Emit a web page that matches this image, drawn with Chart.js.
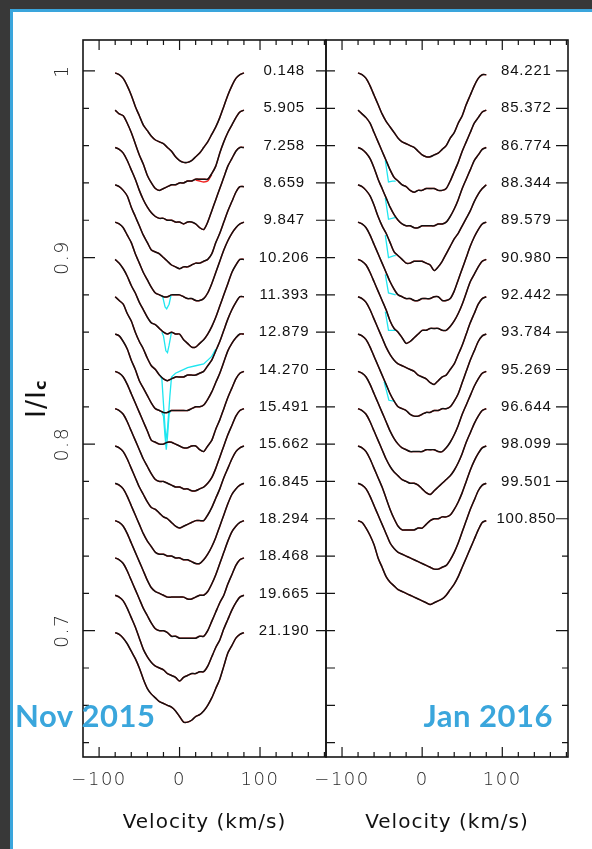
<!DOCTYPE html>
<html>
<head>
<meta charset="utf-8">
<script src="https://cdn.jsdelivr.net/npm/chart.js@4.4.0/dist/chart.umd.min.js"></script>
<style>
html,body{margin:0;padding:0}
body{width:592px;height:849px;overflow:hidden;position:relative;background:#383838}
#sheet{position:absolute;left:10px;top:9px;width:620px;height:880px;background:#fff;border:3px solid #3aa5dc;box-sizing:border-box}
canvas{position:absolute;left:0;top:0}
</style>
</head>
<body>
<div id="sheet"></div>
<canvas id="nov" width="592" height="849"></canvas>
<canvas id="jan" width="592" height="849"></canvas>
<script>
// ---------- data ----------
const velocity = [-80,-75,-70,-65,-60,-55,-50,-45,-40,-35,-30,-25,-20,-15,-10,-5,0,5,10,15,20,25,30,35,40,45,50,55,60,65,70,75,80];

const novEpochs = ['0.148','5.905','7.258','8.659','9.847','10.206','11.393','12.879','14.270','15.491','15.662','16.845','18.294','18.468','19.665','21.190'];
const novLevels = [1.00,0.98,0.96,0.94,0.92,0.90,0.88,0.86,0.84,0.82,0.80,0.78,0.76,0.74,0.72,0.70];
const janEpochs = ['84.221','85.372','86.774','88.344','89.579','90.980','92.442','93.784','95.269','96.644','98.099','99.501','100.850'];
const janLevels = [1.00,0.98,0.96,0.94,0.92,0.90,0.88,0.86,0.84,0.82,0.80,0.78,0.76];

const yTickValues = [1.0, 0.9, 0.8, 0.7];
const yTickLabels = ['1', '0.9', '0.8', '0.7'];
const xTickValues = [-100, 0, 100];
const xTickLabels = ['\u2212100', '0', '100'];

// Nov 2015 observed profiles (I/Ic, before vertical shift)
const nov_0148  = [.999,.998,.996,.992,.987,.981,.976,.971,.968,.965,.963,.962,.961,.959,.957,.954,.952,.951,.951,.952,.954,.956,.959,.962,.966,.970,.975,.981,.987,.992,.996,.998,.999];
const nov_5905  = [.999,.997,.996,.992,.987,.981,.975,.970,.964,.960,.957,.956,.957,.958,.959,.959,.960,.960,.961,.961,.962,.962,.962,.962,.965,.969,.976,.982,.987,.991,.995,.998,.999];
const nov_7258  = [.999,.998,.996,.992,.987,.982,.976,.971,.967,.964,.962,.961,.961,.960,.960,.959,.959,.958,.959,.959,.958,.956,.955,.959,.965,.971,.977,.983,.989,.993,.997,.999,.999];
const nov_8659  = [.999,.998,.996,.993,.987,.982,.977,.972,.968,.964,.963,.962,.960,.958,.956,.955,.954,.955,.955,.956,.957,.957,.958,.959,.962,.968,.973,.979,.985,.990,.995,.998,.998];
const nov_9847  = [.999,.998,.996,.992,.988,.982,.977,.972,.968,.964,.961,.960,.959,.959,.960,.960,.960,.959,.958,.958,.957,.957,.958,.961,.966,.972,.978,.984,.989,.993,.996,.998,.999];
const nov_10206 = [.999,.997,.994,.990,.985,.981,.976,.972,.968,.965,.964,.962,.960,.959,.960,.959,.959,.956,.954,.952,.952,.954,.956,.959,.963,.968,.974,.980,.986,.992,.996,.999,.999];
const nov_11393 = [.999,.997,.995,.990,.986,.980,.975,.971,.966,.962,.960,.957,.955,.954,.955,.956,.956,.956,.957,.957,.957,.958,.959,.962,.965,.970,.975,.981,.987,.992,.996,.999,.999];
const nov_12879 = [.999,.998,.995,.991,.985,.980,.974,.970,.966,.962,.959,.958,.957,.957,.958,.958,.958,.958,.958,.959,.960,.960,.961,.964,.968,.973,.978,.984,.990,.994,.997,.999,.999];
const nov_14270 = [.999,.998,.996,.992,.987,.982,.977,.972,.967,.962,.961,.960,.960,.961,.961,.960,.959,.958,.958,.959,.959,.957,.956,.959,.962,.968,.973,.979,.985,.990,.995,.998,.999];
const nov_15491 = [.999,.998,.996,.992,.987,.982,.977,.972,.968,.964,.961,.960,.960,.959,.958,.957,.957,.956,.956,.955,.955,.956,.957,.959,.962,.967,.973,.979,.985,.990,.995,.998,.999];
const nov_15662 = [.999,.998,.996,.992,.987,.982,.977,.973,.969,.966,.965,.963,.961,.960,.958,.956,.955,.956,.957,.958,.959,.959,.959,.962,.966,.971,.976,.982,.987,.992,.996,.998,.999];
const nov_16845 = [.999,.998,.996,.992,.987,.982,.977,.972,.968,.965,.962,.961,.961,.960,.960,.959,.959,.958,.958,.957,.956,.956,.958,.961,.965,.970,.976,.982,.988,.993,.996,.998,.999];
const nov_18294 = [.999,.998,.996,.992,.987,.982,.977,.972,.967,.963,.961,.960,.959,.958,.958,.958,.958,.958,.957,.957,.958,.959,.959,.961,.965,.970,.976,.982,.988,.993,.996,.998,.999];
const nov_18468 = [.999,.998,.996,.992,.987,.982,.977,.972,.968,.964,.961,.960,.960,.959,.957,.957,.956,.956,.956,.956,.956,.957,.957,.960,.965,.970,.975,.979,.985,.990,.995,.998,.999];
const nov_19665 = [.999,.998,.996,.992,.987,.982,.976,.970,.966,.963,.961,.960,.959,.957,.956,.955,.953,.955,.956,.957,.957,.958,.958,.961,.966,.971,.975,.981,.986,.991,.995,.998,.999];
const nov_21190 = [.999,.998,.996,.993,.989,.985,.980,.974,.969,.966,.964,.962,.961,.960,.959,.957,.954,.951,.951,.952,.954,.955,.957,.960,.964,.969,.974,.981,.988,.992,.996,.998,.999];

// Jan 2016 observed profiles
const jan_84221  = [.999,.998,.996,.992,.987,.982,.977,.973,.970,.967,.964,.962,.961,.960,.959,.957,.955,.954,.954,.955,.956,.958,.960,.964,.967,.972,.976,.982,.987,.992,.996,.998,.998];
const jan_85372  = [.999,.997,.995,.992,.987,.982,.977,.972,.967,.963,.961,.959,.958,.956,.955,.956,.956,.957,.957,.957,.956,.956,.957,.961,.966,.971,.977,.982,.987,.992,.995,.998,.999];
const jan_86774  = [.999,.998,.996,.993,.988,.982,.977,.972,.967,.963,.960,.958,.957,.957,.956,.956,.957,.957,.957,.957,.958,.958,.959,.962,.966,.971,.977,.982,.987,.992,.995,.998,.999];
const jan_88344  = [.999,.998,.996,.993,.988,.982,.977,.973,.968,.963,.961,.959,.957,.957,.958,.958,.958,.957,.956,.953,.955,.958,.962,.966,.970,.973,.977,.981,.985,.990,.994,.997,.999];
const jan_89579  = [.999,.998,.996,.992,.987,.982,.977,.972,.967,.963,.960,.959,.958,.958,.957,.957,.958,.958,.958,.959,.959,.957,.957,.958,.962,.968,.974,.980,.986,.991,.995,.998,.999];
const jan_90980  = [.999,.998,.996,.992,.987,.982,.977,.972,.966,.962,.960,.957,.954,.955,.957,.959,.961,.961,.962,.962,.962,.961,.961,.963,.966,.970,.975,.981,.987,.991,.995,.998,.999];
const jan_92442  = [.999,.998,.996,.992,.987,.982,.977,.972,.968,.965,.963,.962,.961,.960,.959,.957,.956,.955,.953,.952,.954,.956,.957,.960,.963,.968,.973,.979,.985,.990,.995,.998,.999];
const jan_93784  = [.999,.998,.996,.992,.987,.982,.977,.972,.967,.963,.960,.959,.958,.956,.955,.955,.956,.957,.957,.958,.958,.959,.959,.960,.963,.967,.973,.979,.985,.990,.995,.998,.999];
const jan_95269  = [.999,.998,.996,.992,.987,.982,.977,.972,.967,.963,.960,.958,.957,.956,.956,.956,.956,.957,.957,.957,.956,.956,.958,.961,.965,.970,.976,.981,.986,.991,.995,.998,.999];
const jan_96644  = [.999,.998,.996,.992,.987,.982,.977,.972,.968,.965,.963,.961,.960,.959,.959,.958,.956,.954,.953,.955,.957,.959,.961,.963,.966,.970,.975,.981,.986,.991,.995,.998,.999];
const jan_98099  = [.999,.998,.996,.992,.987,.982,.977,.971,.965,.960,.956,.954,.954,.954,.954,.955,.955,.957,.959,.960,.960,.961,.961,.962,.965,.969,.974,.980,.986,.991,.995,.998,.999];
const jan_99501  = [.999,.998,.996,.992,.987,.982,.977,.972,.967,.964,.962,.961,.960,.959,.958,.957,.956,.955,.954,.953,.953,.954,.955,.958,.962,.967,.973,.979,.985,.990,.995,.998,.999];
const jan_100850 = [.999,.998,.995,.991,.986,.979,.974,.969,.966,.964,.962,.961,.960,.959,.958,.957,.956,.955,.954,.955,.956,.957,.959,.962,.965,.969,.974,.979,.984,.989,.994,.998,.999];

// cyan curve where it departs from the observed one: [velocity, I/Ic]
const cyan_nov_9847  = [[-23,.9595],[-21,.959],[-18,.9535],[-16,.9525],[-13,.955],[-10.5,.960]];
const cyan_nov_10206 = [[-22,.960],[-20,.958],[-17,.950],[-15,.949],[-13,.953],[-10,.960]];
const cyan_nov_11393 = [[-24,.9565],[-22,.955],[-19,.935],[-17,.922],[-15,.928],[-12,.946],[-10,.956],[-5,.958],[0,.959],[10,.961],[20,.962],[30,.963],[40,.967],[45,.971]];
const cyan_nov_12879 = [[-22,.957],[-20,.955],[-18,.944],[-16.5,.937],[-15,.944],[-13,.956],[-11,.958]];
const cyan_jan_85372 = [[-46,.972],[-42,.9605],[-37,.961],[-33,.961]];
const cyan_jan_86774 = [[-46,.972],[-42,.9605],[-33,.9615]];
const cyan_jan_88344 = [[-46,.972],[-42,.960],[-35,.961],[-33,.961]];
const cyan_jan_89579 = [[-46,.971],[-42,.961],[-33,.960]];
const cyan_jan_90980 = [[-46,.971],[-42,.961],[-35,.961],[-33,.961]];
const cyan_jan_93784 = [[-47.5,.9735],[-41.5,.9635],[-35,.963]];
// red curve where it departs from the observed one
const red_nov_5905 = [[20,.9615],[25,.961],[30,.9605],[35,.961],[40,.9645]];

// ---------- build ----------
const novProfiles = [nov_0148,nov_5905,nov_7258,nov_8659,nov_9847,nov_10206,nov_11393,nov_12879,nov_14270,nov_15491,nov_15662,nov_16845,nov_18294,nov_18468,nov_19665,nov_21190];
const janProfiles = [jan_84221,jan_85372,jan_86774,jan_88344,jan_89579,jan_90980,jan_92442,jan_93784,jan_95269,jan_96644,jan_98099,jan_99501,jan_100850];
const novCyan = [[4,cyan_nov_9847],[5,cyan_nov_10206],[6,cyan_nov_11393],[7,cyan_nov_12879]];
const janCyan = [[1,cyan_jan_85372],[2,cyan_jan_86774],[3,cyan_jan_88344],[4,cyan_jan_89579],[5,cyan_jan_90980],[7,cyan_jan_93784]];
const novRed = [[1,red_nov_5905]];
const janRed = [];

const RED = '#f0201e', CYAN = '#1fe6f0', BLACK = '#111111';

function buildDatasets(profiles, levels, cyan, red) {
  const ds = [];
  profiles.forEach((flux, i) => {
    const pts = velocity.map((v, j) => ({x: v, y: flux[j] - 1 + levels[i]}));
    ds.push({data: pts, borderColor: RED, borderWidth: 1.4, order: 4});
    ds.push({data: pts, borderColor: BLACK, borderWidth: 1.5, order: 0});
  });
  cyan.forEach(([i, arr]) => ds.push({data: arr.map(([v, f]) => ({x: v, y: f - 1 + levels[i]})), borderColor: CYAN, borderWidth: 1.3, order: 2, tension: 0}));
  red.forEach(([i, arr]) => ds.push({data: arr.map(([v, f]) => ({x: v, y: f - 1 + levels[i]})), borderColor: RED, borderWidth: 1.4, order: 3}));
  return ds;
}

const framePlugin = {
  id: 'frame',
  afterDatasetsDraw(chart, args, o) {
    const {ctx, chartArea: a, scales: {x, y}} = chart;
    ctx.save();
    ctx.strokeStyle = '#151515';
    ctx.lineWidth = 1.6;
    ctx.strokeRect(a.left, a.top, a.right - a.left, a.bottom - a.top);
    ctx.lineWidth = 1.2;
    ctx.beginPath();
    for (let v = -100; v <= 180; v += 20) {
      const px = x.getPixelForValue(v);
      const len = v % 100 === 0 ? 10 : 5;
      ctx.moveTo(px, a.top); ctx.lineTo(px, a.top + len);
      ctx.moveTo(px, a.bottom); ctx.lineTo(px, a.bottom - len);
    }
    for (let k = 32; k <= 50; k++) {
      const val = k / 50;
      const py = y.getPixelForValue(val);
      const major = k % 5 === 0;
      if (o.side === 'left') {
        const len = major ? 12 : 6;
        ctx.moveTo(a.left, py); ctx.lineTo(a.left + len, py);
      } else {
        ctx.moveTo(a.left, py); ctx.lineTo(a.left + 9, py);
        const isLabel = o.levels.some(l => Math.abs(l - val) < 1e-6);
        const len = (major || isLabel) ? 12 : 6;
        ctx.moveTo(a.right, py); ctx.lineTo(a.right - len, py);
      }
    }
    if (o.side === 'left') {
      o.levels.forEach(l => { const py = y.getPixelForValue(l); ctx.moveTo(a.right, py); ctx.lineTo(a.right - 10, py); });
    }
    ctx.stroke();

    // epoch labels
    ctx.fillStyle = '#111';
    ctx.font = '15px "Liberation Sans", Arial, sans-serif';
    ctx.letterSpacing = '0.8px';
    ctx.textAlign = 'center';
    ctx.textBaseline = 'middle';
    const lx = x.getPixelForValue(130);
    o.levels.forEach((l, i) => ctx.fillText(o.epochs[i], lx, y.getPixelForValue(l)));

    // x tick labels
    ctx.fillStyle = '#2a2a2a';
    ctx.font = '200 18px "DejaVu Sans", sans-serif';
    ctx.letterSpacing = '1.5px';
    ctx.textBaseline = 'alphabetic';
    xTickValues.forEach((v, i) => ctx.fillText(xTickLabels[i], x.getPixelForValue(v), a.bottom + 28));

    // x title
    ctx.fillStyle = '#111';
    ctx.font = '20px "DejaVu Sans", sans-serif';
    ctx.letterSpacing = '1px';
    ctx.fillText('Velocity (km/s)', (a.left + a.right) / 2, a.bottom + 71);

    if (o.side === 'left') {
      // y tick labels (rotated)
      ctx.fillStyle = '#2a2a2a';
      ctx.font = '200 19px "DejaVu Sans", sans-serif';
      ctx.letterSpacing = '1.5px';
      yTickValues.forEach((v, i) => {
        ctx.save();
        ctx.translate(a.left - 15, y.getPixelForValue(v));
        ctx.rotate(-Math.PI / 2);
        ctx.textAlign = 'center';
        ctx.fillText(yTickLabels[i], 0, 0);
        ctx.restore();
      });
      // y title I/Ic
      ctx.save();
      ctx.translate(a.left - 38, 418);
      ctx.rotate(-Math.PI / 2);
      ctx.textAlign = 'left';
      ctx.fillStyle = '#111';
      ctx.letterSpacing = '1px';
      ctx.font = '27px "DejaVu Sans", sans-serif';
      ctx.fillText('I/I', 0, 0);
      const w = ctx.measureText('I/I').width;
      ctx.letterSpacing = '0px';
      ctx.font = 'bold 16px "DejaVu Sans", sans-serif';
      ctx.fillText('c', w, 1);
      ctx.restore();
    }

    // panel caption
    ctx.fillStyle = '#3aa6dc';
    ctx.font = 'bold 31px Lato, "DejaVu Sans", sans-serif';
    ctx.letterSpacing = '0.5px';
    ctx.textBaseline = 'alphabetic';
    ctx.textAlign = o.side === 'left' ? 'left' : 'right';
    ctx.fillText(o.caption, o.side === 'left' ? 15 : 553, 727);
    ctx.restore();
  }
};

function makeChart(id, profiles, levels, epochs, cyan, red, side, padding, caption) {
  return new Chart(document.getElementById(id), {
    type: 'line',
    data: {datasets: buildDatasets(profiles, levels, cyan, red)},
    options: {
      responsive: false, animation: false, devicePixelRatio: 1,
      layout: {padding},
      elements: {point: {radius: 0}, line: {tension: 0.25, fill: false}},
      plugins: {legend: {display: false}, tooltip: {enabled: false},
        frame: {side, levels, epochs, caption}},
      scales: {
        x: {type: 'linear', min: -120, max: 182, display: false},
        y: {type: 'linear', min: 0.6323, max: 1.0166, display: false}
      }
    },
    plugins: [framePlugin]
  });
}

makeChart('nov', novProfiles, novLevels, novEpochs, novCyan, novRed, 'left', {left: 83, right: 266, top: 40, bottom: 92}, 'Nov 2015');
makeChart('jan', janProfiles, janLevels, janEpochs, janCyan, janRed, 'right', {left: 326, right: 24, top: 40, bottom: 92}, 'Jan 2016');
</script>
</body>
</html>
